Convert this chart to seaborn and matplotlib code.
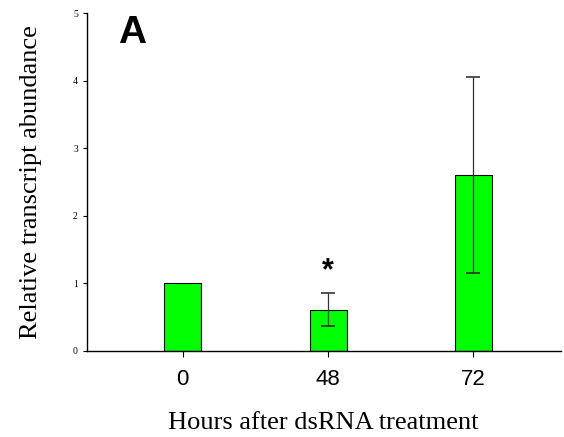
import pandas as pd
import matplotlib
matplotlib.use("Agg")
import matplotlib.pyplot as plt
import seaborn as sns

# data
hours = ["0", "48", "72"]
abundance = [1.0, 0.61, 2.60]
err = [0.0, 0.24, 1.45]
signif = ["", "*", ""]

df = pd.DataFrame({"hours": hours, "abundance": abundance})

sns.set_style("ticks", {"text.color": "black", "axes.labelcolor": "black",
                        "xtick.color": "black", "ytick.color": "black",
                        "axes.edgecolor": "black"})
fig = plt.figure(figsize=(5.64, 4.37), dpi=100)
ax = fig.add_axes([0.154, 0.197, 0.84, 0.773])

sns.barplot(data=df, x="hours", y="abundance", color="#00ff00",
            edgecolor="black", linewidth=0.8, width=0.255, saturation=1,
            errorbar=None, ax=ax)

# error bars on the bars that have them
for i, (v, e) in enumerate(zip(abundance, err)):
    if e > 0:
        ax.errorbar(i, v, yerr=e, fmt="none", ecolor="#333333",
                    elinewidth=0.9, capsize=5, capthick=1.2)
    if signif[i]:
        ax.text(i, v + e + 0.1, signif[i], ha="center", va="bottom",
                fontsize=22, fontweight="bold", family="Liberation Sans")

ax.set_ylim(0, 5)
ax.set_xlim(-0.66, 2.6)
ax.set_yticks([0, 1, 2, 3, 4, 5])
ax.tick_params(axis="y", labelsize=7, length=3, width=0.8)
ax.tick_params(axis="x", labelsize=16, length=4, width=0.8, pad=9)
for lab in ax.get_yticklabels():
    lab.set_family("Liberation Serif")
for lab in ax.get_xticklabels():
    lab.set_family("Liberation Sans")

ax.set_ylabel("Relative transcript abundance", family="Liberation Serif",
              fontsize=19, labelpad=22)
ax.set_xlabel("Hours after dsRNA treatment", family="Liberation Serif",
              fontsize=19, labelpad=16)

sns.despine(ax=ax)
for s in ["left", "bottom"]:
    ax.spines[s].set_linewidth(1.0)

ax.text(0.065, 0.995, "A", transform=ax.transAxes, ha="left", va="top",
        fontsize=28, fontweight="bold", family="Liberation Sans")

fig.savefig("out.png", dpi=100)
